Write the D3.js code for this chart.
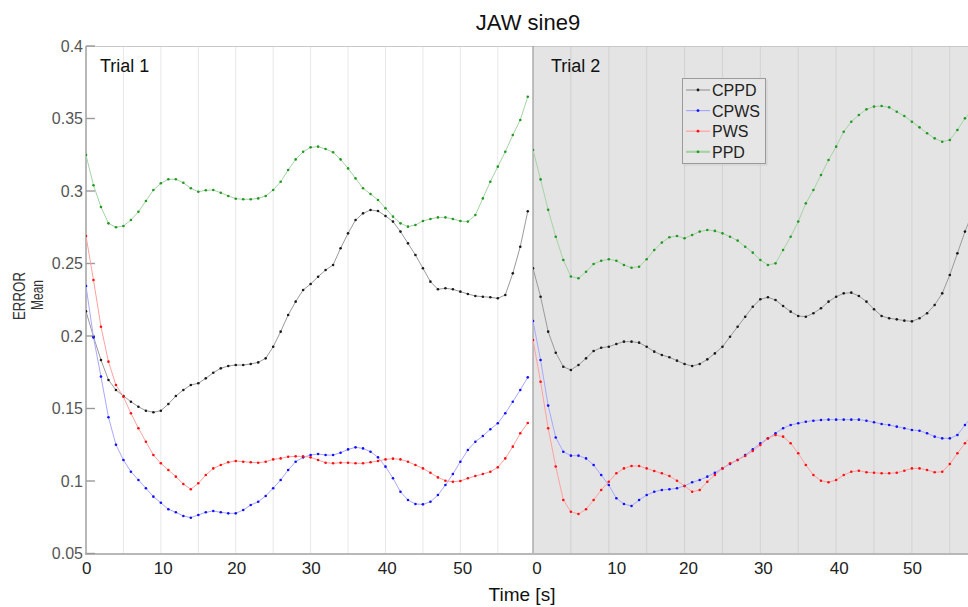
<!DOCTYPE html>
<html><head><meta charset="utf-8">
<script src="https://cdn.jsdelivr.net/npm/d3@7/dist/d3.min.js"></script>
<style>
html,body{margin:0;padding:0;background:#fff;}
svg{display:block;font-family:"Liberation Sans",Arial,sans-serif;}
</style></head>
<body>
<svg id="chart" width="968" height="607"></svg>
<script>
// ---------- DATA ----------
const title = "JAW sine9";
const trialNames = ["Trial 1", "Trial 2"];
const seriesNames = ["CPPD", "CPWS", "PWS", "PPD"];
const yTickValues = [0.05, 0.1, 0.15, 0.2, 0.25, 0.3, 0.35, 0.4];
const yTickLabels = ["0.05", "0.1", "0.15", "0.2", "0.25", "0.3", "0.35", "0.4"];
const xTickValues = [0, 10, 20, 30, 40, 50];
const xTickLabels = ["0", "10", "20", "30", "40", "50"];
const gridValues = [5, 10, 15, 20, 25, 30, 35, 40, 45, 50, 55];
const trialDurations = [59.7, 57.4]; // visible span in seconds
const sampleStep = 1; // seconds between samples

// Trial 1 (t = 0..59 s)
const t1_CPPD = [0.217,0.1995,0.1834,0.1697,0.1628,0.1586,0.1547,0.1512,0.1485,0.1474,0.1485,0.1531,0.1586,0.1628,0.1662,0.1674,0.1708,0.1747,0.1777,0.1793,0.180,0.180,0.1807,0.1818,0.1846,0.1926,0.2030,0.2145,0.2237,0.2317,0.2359,0.2409,0.2455,0.2490,0.2605,0.2708,0.280,0.2846,0.2869,0.2862,0.2828,0.2789,0.2720,0.2639,0.2559,0.2467,0.2375,0.2322,0.2329,0.2322,0.2306,0.2290,0.2276,0.2271,0.2267,0.2260,0.2283,0.2432,0.2616,0.2860];
const t1_CPWS = [0.2345,0.199,0.172,0.144,0.125,0.1145,0.1064,0.1007,0.0950,0.0892,0.0850,0.0805,0.0784,0.0759,0.0747,0.0766,0.0784,0.0793,0.0784,0.0777,0.0777,0.0800,0.0834,0.0857,0.0897,0.0950,0.1007,0.1076,0.1133,0.1163,0.1179,0.1186,0.1179,0.1179,0.1195,0.1218,0.1232,0.1225,0.1202,0.1163,0.1099,0.1019,0.0926,0.0869,0.0841,0.0839,0.0857,0.0903,0.0972,0.1048,0.1133,0.1214,0.1271,0.1310,0.1357,0.1398,0.1467,0.1547,0.1628,0.1715];
const t1_PWS  = [0.2690,0.2386,0.2064,0.1823,0.1662,0.1581,0.1467,0.1364,0.1271,0.1179,0.1122,0.1076,0.1030,0.0979,0.0943,0.0984,0.1041,0.1087,0.1110,0.1129,0.1138,0.1133,0.1129,0.1126,0.1133,0.1149,0.1156,0.1167,0.1170,0.1170,0.1163,0.1145,0.1126,0.1122,0.1126,0.1126,0.1122,0.1122,0.1129,0.1138,0.1149,0.1154,0.1149,0.1133,0.1110,0.1087,0.1057,0.1025,0.1002,0.0995,0.1000,0.1019,0.1034,0.1048,0.1064,0.1094,0.1156,0.1237,0.1329,0.1400];
const t1_PPD  = [0.3248,0.304,0.289,0.2777,0.2750,0.2759,0.2800,0.2857,0.2931,0.3007,0.3053,0.3081,0.3081,0.3057,0.3019,0.2995,0.3005,0.3007,0.2988,0.2966,0.2947,0.2943,0.2943,0.2949,0.2966,0.3007,0.3064,0.3145,0.3218,0.3271,0.3301,0.3306,0.3290,0.3267,0.3218,0.3156,0.3087,0.3019,0.2979,0.2938,0.2881,0.2823,0.2777,0.2754,0.2766,0.2793,0.2807,0.2818,0.2818,0.2807,0.2793,0.2789,0.2834,0.2949,0.3064,0.3168,0.3271,0.3386,0.3490,0.3650];

// Trial 2 (t = 0..58 s, right part is cut by the frame)
const t2_CPPD = [0.2467,0.2271,0.2030,0.1885,0.1788,0.1766,0.1800,0.1846,0.1897,0.1919,0.1926,0.1945,0.1961,0.1961,0.1954,0.1926,0.1892,0.1869,0.1853,0.1830,0.1807,0.1793,0.1807,0.1839,0.1880,0.1926,0.1995,0.2064,0.2133,0.2202,0.2253,0.2267,0.2248,0.2207,0.2168,0.2138,0.2133,0.2157,0.2191,0.2237,0.2271,0.2294,0.2299,0.2276,0.2237,0.2184,0.2138,0.2122,0.2115,0.2106,0.2101,0.2122,0.2157,0.2214,0.2294,0.2421,0.2570,0.2720,0.2850];
const t2_CPWS = [0.2103,0.1834,0.152,0.130,0.1202,0.1175,0.1175,0.1156,0.1110,0.1041,0.0972,0.0881,0.0841,0.0828,0.0869,0.0903,0.0926,0.0938,0.0943,0.0950,0.0966,0.0991,0.1007,0.1030,0.1057,0.1087,0.1117,0.1145,0.1179,0.1218,0.1260,0.1294,0.1329,0.1364,0.1386,0.1398,0.1409,0.1416,0.1421,0.1423,0.1423,0.1423,0.1423,0.1423,0.1416,0.1405,0.1393,0.1386,0.1375,0.1364,0.1352,0.1347,0.1329,0.1306,0.1294,0.1294,0.1317,0.1386,0.1450];
const t2_PWS  = [0.1972,0.1685,0.1364,0.110,0.0869,0.0788,0.0772,0.0805,0.0869,0.0938,0.0995,0.1053,0.1087,0.1103,0.1103,0.1087,0.1069,0.1053,0.1034,0.1002,0.0966,0.0926,0.0938,0.0995,0.1041,0.1087,0.1122,0.1145,0.1172,0.1207,0.1248,0.1294,0.1317,0.1306,0.1260,0.1191,0.1110,0.1041,0.1002,0.0991,0.1007,0.1041,0.1064,0.1071,0.1060,0.1057,0.1053,0.1053,0.1057,0.1071,0.1087,0.1087,0.1076,0.1060,0.1064,0.1117,0.1191,0.1260,0.1320];
const t2_PPD  = [0.3283,0.308,0.287,0.2685,0.2524,0.241,0.2398,0.2443,0.2497,0.2519,0.2529,0.2519,0.2490,0.2471,0.2478,0.2529,0.2593,0.2644,0.2681,0.2690,0.2674,0.2697,0.2720,0.2731,0.2725,0.2708,0.2685,0.2658,0.2616,0.2575,0.2524,0.2490,0.2501,0.2593,0.2685,0.2789,0.2915,0.3007,0.3110,0.3214,0.3306,0.3409,0.3478,0.3524,0.3563,0.3582,0.3586,0.3577,0.3547,0.3517,0.3478,0.3439,0.3398,0.3363,0.3340,0.3352,0.3421,0.3501,0.3560];

// ---------- STYLE ----------
const dotColors  = {CPPD:"#1a1a1a", CPWS:"#1010ff", PWS:"#ff1010", PPD:"#229922"};
const lineColors = {CPPD:"#9a9a9a", CPWS:"#a8a8ff", PWS:"#ffa0a0", PPD:"#a6d2a6"};
const trialTickNudge = [[0.7, 2.3, 1, 0.7, 1.7, 2.4], [4, 8, 4, 3, 3, 0.5]];

const trials = [
  {CPPD:t1_CPPD, CPWS:t1_CPWS, PWS:t1_PWS, PPD:t1_PPD},
  {CPPD:t2_CPPD, CPWS:t2_CPWS, PWS:t2_PWS, PPD:t2_PPD}
];

const pTop = 46, pBottom = 553.5, pLeft = 86, pSplit = 533, pRight = 968;
const svg = d3.select("#chart");

const y = d3.scaleLinear().domain([0.05, 0.4]).range([pBottom, pTop]);
const xs = [
  d3.scaleLinear().domain([0, trialDurations[0]]).range([pLeft, pSplit]),
  d3.scaleLinear().domain([0, trialDurations[1]]).range([pSplit, pRight])
];

// backgrounds
svg.append("rect").attr("x", pLeft).attr("y", pTop).attr("width", pSplit-pLeft).attr("height", pBottom-pTop).attr("fill", "#ffffff");
svg.append("rect").attr("x", pSplit).attr("y", pTop).attr("width", pRight-pSplit).attr("height", pBottom-pTop).attr("fill", "#e4e4e4");

// gridlines
xs.forEach((x, i) => {
  svg.append("g").selectAll("line").data(gridValues).join("line")
    .attr("x1", d => x(d)).attr("x2", d => x(d))
    .attr("y1", pTop).attr("y2", pBottom)
    .attr("stroke", i === 0 ? "#e8e8e8" : "#d2d2d2").attr("stroke-width", 1);
});

// frame lines
svg.append("line").attr("x1", pLeft).attr("x2", pRight).attr("y1", pTop+0.5).attr("y2", pTop+0.5).attr("stroke", "#c8c8c8");
svg.append("line").attr("x1", pSplit).attr("x2", pSplit).attr("y1", pTop).attr("y2", pBottom).attr("stroke", "#9a9a9a").attr("stroke-width", 1.2);
svg.append("line").attr("x1", pLeft).attr("x2", pRight).attr("y1", pBottom+0.5).attr("y2", pBottom+0.5).attr("stroke", "#b8b8b8").attr("stroke-width", 2);
svg.append("line").attr("x1", pLeft).attr("x2", pLeft).attr("y1", pTop).attr("y2", pBottom+1.5).attr("stroke", "#b8b8b8").attr("stroke-width", 2);

// y ticks
const yAxis = svg.append("g");
yAxis.selectAll("line").data(yTickValues).join("line")
  .attr("x1", pLeft).attr("x2", pLeft+9)
  .attr("y1", d => y(d)).attr("y2", d => y(d))
  .attr("stroke", "#9a9a9a").attr("stroke-width", 1.4);
yAxis.selectAll("text").data(yTickValues).join("text")
  .attr("x", pLeft-3).attr("y", d => y(d)+5.5)
  .attr("text-anchor", "end").attr("font-size", 16).attr("fill", "#555")
  .text((d, i) => yTickLabels[i]);

// x tick labels
xs.forEach((x, i) => {
  svg.append("g").selectAll("text").data(xTickValues).join("text")
    .attr("x", (d, j) => x(d) + trialTickNudge[i][j])
    .attr("y", 574)
    .attr("text-anchor", "middle").attr("font-size", 17).attr("fill", "#222")
    .text((d, j) => xTickLabels[j]);
});

// clip for plotting area
svg.append("defs").selectAll("clipPath").data([0,1]).join("clipPath")
  .attr("id", d => "clip"+d)
  .append("rect")
  .attr("x", d => d === 0 ? pLeft : pSplit).attr("y", pTop)
  .attr("width", d => d === 0 ? pSplit-pLeft : pRight-pSplit).attr("height", pBottom-pTop);

// series
trials.forEach((tr, i) => {
  const x = xs[i];
  const g = svg.append("g").attr("clip-path", `url(#clip${i})`);
  seriesNames.forEach(name => {
    const vals = tr[name];
    const pts = vals.map((v, k) => [k*sampleStep, v]);
    const line = d3.line().x(d => x(d[0])).y(d => y(d[1]));
    g.append("path").datum(pts).attr("d", line)
      .attr("fill", "none").attr("stroke", lineColors[name]).attr("stroke-width", 1);
    g.append("g").selectAll("circle").data(pts).join("circle")
      .attr("cx", d => x(d[0])).attr("cy", d => y(d[1])).attr("r", 1.3)
      .attr("fill", dotColors[name]);
  });
});

// trial labels
svg.append("text").attr("x", 100).attr("y", 72).attr("font-size", 18).attr("fill", "#111").text(trialNames[0]);
svg.append("text").attr("x", 551).attr("y", 72).attr("font-size", 18).attr("fill", "#111").text(trialNames[1]);

// legend
const lg = svg.append("g");
lg.append("rect").attr("x", 684).attr("y", 80).attr("width", 83).attr("height", 85).attr("fill", "none").attr("stroke", "#cfcfcf");
lg.append("rect").attr("x", 682.5).attr("y", 78.5).attr("width", 83).attr("height", 85).attr("fill", "#e6e6e6").attr("stroke", "#9a9a9a");
seriesNames.forEach((name, i) => {
  const cy = 90 + i*20.6;
  lg.append("line").attr("x1", 686).attr("x2", 710).attr("y1", cy).attr("y2", cy)
    .attr("stroke", lineColors[name]).attr("stroke-width", name === "PPD" ? 2.2 : 1.2);
  lg.append("circle").attr("cx", 698).attr("cy", cy).attr("r", 1.4).attr("fill", dotColors[name]);
  lg.append("text").attr("x", 712).attr("y", cy+6).attr("font-size", 16).attr("fill", "#222").text(name);
});

// title and axis labels
svg.append("text").attr("x", 528).attr("y", 30).attr("text-anchor", "middle").attr("font-size", 22).attr("fill", "#111").text(title);
svg.append("text").attr("x", 522).attr("y", 601).attr("text-anchor", "middle").attr("font-size", 19).attr("fill", "#111").text("Time [s]");
svg.append("text").attr("transform", "translate(25,296) rotate(-90)").attr("text-anchor", "middle")
  .attr("font-size", 17).attr("fill", "#333").attr("textLength", 48).attr("lengthAdjust", "spacingAndGlyphs").text("ERROR");
svg.append("text").attr("transform", "translate(43,295) rotate(-90)").attr("text-anchor", "middle")
  .attr("font-size", 16.5).attr("fill", "#333").attr("textLength", 30).attr("lengthAdjust", "spacingAndGlyphs").text("Mean");
</script>
</body></html>
